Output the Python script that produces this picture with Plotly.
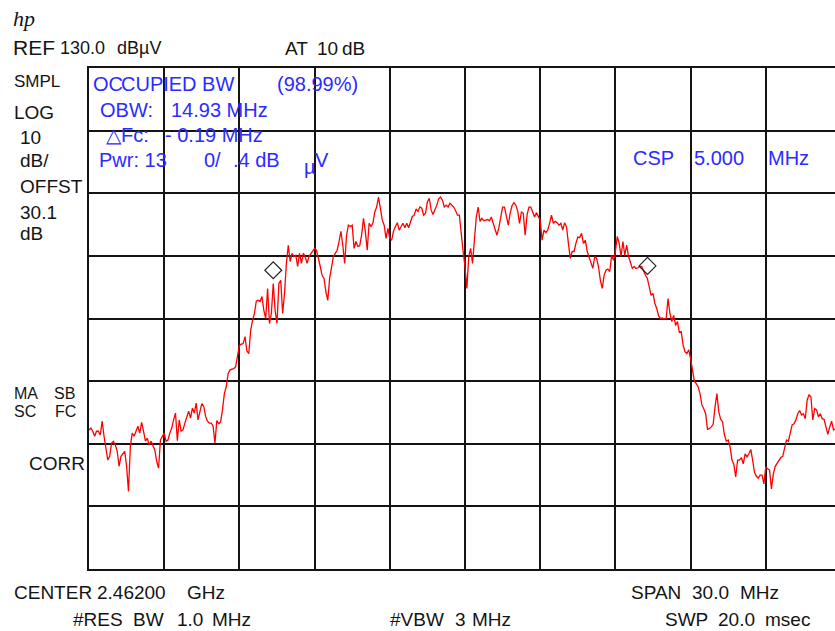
import numpy as np
import plotly.graph_objects as go

# ---------------- data ----------------
center_mhz = 2462.0
span_mhz = 30.0
ref_level = 130.0          # dBuV (top of screen)
db_per_div = 10
sweep_points = 401

level_dbuv = [
    72.2, 72.5, 72.0, 71.2, 72.0, 72.0, 71.4, 73.6, 71.2, 69.3,
    67.4, 68.0, 70.1, 70.4, 69.8, 68.8, 66.4, 68.0, 68.5, 68.8,
    66.4, 62.4, 69.6, 71.7, 71.2, 72.2, 72.8, 71.7, 73.4, 72.0,
    70.4, 70.9, 69.8, 70.4, 69.6, 69.0, 67.2, 66.1, 70.6, 71.2,
    71.7, 70.4, 70.6, 71.7, 72.5, 73.8, 74.9, 70.5, 73.8, 72.0,
    72.2, 73.3, 74.4, 75.2, 74.1, 75.7, 74.9, 76.5, 73.8, 75.4,
    76.4, 76.0, 74.4, 73.6, 73.3, 73.3, 72.8, 70.1, 73.7, 73.2,
    73.5, 75.4, 78.0, 79.1, 81.2, 81.8, 81.9, 82.0, 82.3, 84.4,
    85.7, 85.9, 86.0, 87.1, 84.8, 84.4, 88.1, 89.7, 90.8, 92.8,
    92.9, 92.7, 93.5, 91.3, 90.0, 94.8, 89.2, 90.8, 95.6, 91.3,
    89.2, 95.6, 96.1, 90.8, 94.0, 98.8, 101.7, 99.1, 100.4, 99.9,
    100.1, 98.3, 100.4, 98.8, 100.4, 99.9, 98.8, 99.9, 100.4, 100.7,
    101.2, 100.9, 99.3, 98.3, 96.9, 96.4, 94.3, 92.9, 96.4, 98.5,
    99.9, 100.4, 100.9, 102.3, 103.9, 101.7, 98.8, 103.3, 104.9, 104.7,
    104.9, 101.2, 102.3, 101.5, 101.6, 103.3, 106.0, 103.9, 100.9, 105.2,
    104.7, 105.2, 107.0, 107.8, 109.4, 107.6, 105.7, 104.9, 102.8, 104.4,
    102.8, 102.5, 104.0, 104.7, 105.3, 104.1, 104.7, 105.2, 104.5, 105.2,
    104.5, 105.5, 106.3, 106.5, 107.5, 107.1, 107.8, 107.6, 106.5, 106.8,
    108.6, 109.2, 107.3, 106.6, 107.3, 108.1, 109.1, 109.4, 108.9, 107.8,
    108.1, 107.8, 108.4, 108.1, 107.8, 107.2, 106.5, 106.5, 103.0, 100.7,
    98.3, 94.8, 99.9, 101.2, 98.8, 102.5, 106.2, 107.8, 105.5, 106.0,
    105.6, 105.7, 105.8, 105.6, 106.2, 105.2, 104.1, 103.3, 104.5, 106.2,
    107.8, 107.8, 106.0, 104.9, 106.8, 108.0, 108.5, 108.1, 107.2, 105.2,
    107.0, 106.8, 103.3, 106.5, 107.8, 107.8, 107.0, 106.2, 106.9, 106.2,
    105.7, 102.5, 104.1, 103.7, 104.1, 105.2, 106.5, 105.2, 105.5, 105.3,
    104.9, 105.2, 104.1, 105.3, 104.6, 102.0, 99.6, 100.7, 100.7, 102.0,
    103.0, 102.9, 103.6, 102.0, 102.5, 100.7, 99.7, 99.1, 98.0, 99.9,
    99.6, 98.3, 96.1, 94.8, 96.9, 97.7, 97.9, 97.5, 100.1, 99.3,
    100.7, 103.1, 102.0, 99.9, 102.3, 100.1, 101.7, 99.9, 99.1, 98.0,
    98.3, 98.0, 98.1, 98.3, 98.3, 97.5, 96.9, 96.4, 95.1, 93.7,
    94.0, 92.4, 91.6, 90.4, 90.0, 90.1, 89.9, 90.0, 93.2, 90.8,
    89.5, 90.5, 88.9, 89.5, 87.8, 87.9, 85.8, 84.7, 84.4, 85.0,
    83.6, 81.5, 80.0, 79.6, 79.1, 78.0, 76.2, 75.6, 74.8, 72.3,
    72.4, 72.7, 73.1, 75.9, 78.0, 75.1, 73.9, 73.5, 71.4, 70.4,
    70.6, 69.5, 67.4, 66.7, 64.7, 67.4, 67.4, 67.8, 66.8, 68.4,
    67.9, 68.4, 69.1, 67.4, 65.4, 64.8, 64.5, 65.0, 65.0, 63.6,
    66.3, 66.0, 65.8, 62.8, 65.2, 66.4, 66.9, 67.5, 67.8, 68.0,
    69.5, 70.6, 70.4, 71.5, 73.0, 73.2, 73.8, 74.8, 75.3, 74.6,
    74.8, 74.0, 77.0, 77.8, 77.5, 73.8, 75.6, 75.4, 74.3, 74.8,
    74.0, 73.9, 72.7, 71.5, 72.7, 73.6, 72.2, 72.4, 72.9, 73.2,
    72.8,
]

obw_marker_freq = [2454.35, 2469.28]
obw_marker_level = [97.7, 98.4]

start_mhz = center_mhz - span_mhz / 2
step_mhz = span_mhz / (sweep_points - 1)
freq_mhz = start_mhz + np.arange(len(level_dbuv)) * step_mhz

# ---------------- layout geometry ----------------
W, H = 835, 631
L, T = 89, 68
PW, PH = W - L, 501
B = H - T - PH
div_px = 75.2
x_end = start_mhz + (PW / div_px) * (span_mhz / 10)

BLACK = "#141414"
BLUE = "#2b2bff"
FONT = "Liberation Sans, Arial, sans-serif"

fig = go.Figure()
fig.add_trace(go.Scatter(
    x=freq_mhz, y=level_dbuv, mode="lines",
    line=dict(color="#ff0000", width=1.3),
    hoverinfo="skip", showlegend=False,
))
fig.add_trace(go.Scatter(
    x=obw_marker_freq, y=obw_marker_level, mode="markers",
    marker=dict(symbol="diamond-open", size=13, color="#222222",
                line=dict(width=1.2, color="#222222")),
    hoverinfo="skip", showlegend=False,
))

anns = []


def txt(s, px, py, size, color=BLACK, family=FONT):
    anns.append(dict(
        text=s, x=(px - L) / PW, y=(H - B - py) / PH,
        xref="paper", yref="paper", xanchor="left", yanchor="middle",
        showarrow=False, borderpad=0,
        font=dict(size=size, color=color, family=family),
    ))


# header
txt("<i>hp</i>", 12, 18, 22, family="Liberation Serif, serif")
txt("REF", 12, 47, 21)
txt("130.0", 59, 48, 18)
txt("dBµV", 116, 48, 18)
txt("AT", 284, 48, 19)
txt("10", 316, 48, 19)
txt("dB", 341, 48, 19)

# left column
txt("SMPL", 13, 81, 17)
txt("LOG", 13, 112, 19)
txt("10", 19, 137, 19)
txt("dB/", 19, 160, 19)
txt("OFFST", 19, 186, 19)
txt("30.1", 19, 212, 19)
txt("dB", 19, 233, 19)
txt("MA", 13, 393, 16)
txt("SB", 53, 393, 16)
txt("SC", 13, 412, 16)
txt("FC", 54, 412, 16)
txt("CORR", 28, 463, 19)

# bottom
txt("CENTER", 13, 592, 19)
txt("2.46200", 96, 592, 19)
txt("GHz", 186, 592, 19)
txt("#RES", 72, 619, 19)
txt("BW", 132, 619, 19)
txt("1.0", 176, 619, 19)
txt("MHz", 211, 619, 19)
txt("#VBW", 389, 619, 19)
txt("3", 454, 619, 19)
txt("MHz", 471, 619, 19)
txt("SPAN", 630, 592, 19)
txt("30.0", 691, 592, 19)
txt("MHz", 739, 592, 19)
txt("SWP", 664, 619, 19)
txt("20.0", 717, 619, 19)
txt("msec", 764, 619, 19)

# blue OBW readout
txt("OC", 92, 84, 20, BLUE)
txt("CUPIED BW", 120, 84, 20, BLUE)
txt("(98.99%)", 276, 84, 20, BLUE)
txt("OBW:", 99, 110, 20, BLUE)
txt("14.93 MHz", 170, 110, 20, BLUE)
txt("△Fc:", 105, 135, 20, BLUE)
txt("- 0.19 MHz", 164, 135, 20, BLUE)
txt("Pwr: 13", 98, 160, 20, BLUE)
txt("0/", 203, 160, 20, BLUE)
txt(".4 dB", 232, 160, 20, BLUE)
txt("µ", 303, 167, 20, BLUE)
txt("V", 314, 160, 20, BLUE)
txt("CSP", 632, 158, 20, BLUE)
txt("5.000", 693, 158, 20, BLUE)
txt("MHz", 767, 158, 20, BLUE)

fig.update_layout(
    width=W, height=H,
    margin=dict(l=L, r=0, t=T, b=B, pad=0),
    paper_bgcolor="white", plot_bgcolor="white",
    annotations=anns,
    xaxis=dict(
        range=[start_mhz, x_end], tick0=start_mhz, dtick=span_mhz / 10,
        showticklabels=False, ticks="", showgrid=True,
        gridcolor=BLACK, gridwidth=2, zeroline=False,
        showline=True, linecolor=BLACK, linewidth=2, mirror=True,
        fixedrange=True,
    ),
    yaxis=dict(
        range=[ref_level - 8 * db_per_div, ref_level], tick0=ref_level,
        dtick=db_per_div, showticklabels=False, ticks="", showgrid=True,
        gridcolor=BLACK, gridwidth=2, zeroline=False,
        showline=True, linecolor=BLACK, linewidth=2, mirror=False,
        fixedrange=True,
    ),
    showlegend=False,
)

fig.write_html("out.html", config={"displayModeBar": False})
